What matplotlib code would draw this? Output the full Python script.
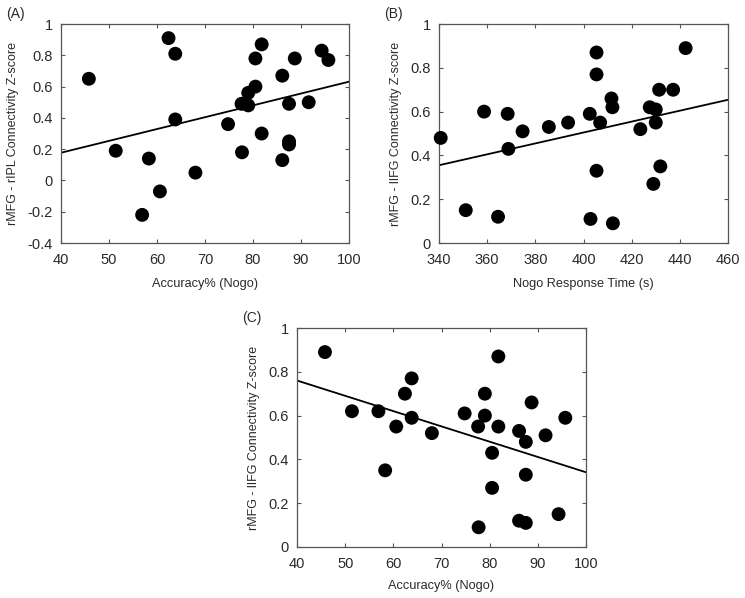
import numpy as np
import matplotlib
matplotlib.use("Agg")
import matplotlib.pyplot as plt

plt.rcParams['font.family'] = ['Liberation Sans', 'DejaVu Sans']

# Accuracy % (Nogo) - shared by panels A and C
accuracy = [45.8, 51.4, 56.9, 58.3, 60.6, 62.4, 63.8, 63.8, 68.0, 74.8, 77.6, 77.7,
            79.0, 79.0, 80.5, 80.5, 81.8, 81.8, 86.1, 86.1, 87.5, 87.5, 87.5, 88.7,
            91.6, 94.3, 95.7]
# Panel A: rMFG - rIPL connectivity
rmfg_ripl = [0.65, 0.19, -0.22, 0.14, -0.07, 0.91, 0.81, 0.39, 0.05, 0.36, 0.49, 0.18,
             0.56, 0.48, 0.78, 0.60, 0.87, 0.30, 0.67, 0.13, 0.49, 0.25, 0.23, 0.78,
             0.50, 0.83, 0.77]
# Panel C: rMFG - lIFG connectivity vs accuracy
rmfg_lifg_acc = [0.89, 0.62, 0.62, 0.35, 0.55, 0.70, 0.77, 0.59, 0.52, 0.61, 0.55, 0.09,
                 0.70, 0.60, 0.43, 0.27, 0.87, 0.55, 0.53, 0.12, 0.48, 0.33, 0.11, 0.66,
                 0.51, 0.15, 0.59]
# Panel B: Nogo response time vs rMFG - lIFG connectivity
nogo_rt = [340.7, 351.1, 358.7, 364.5, 368.5, 368.8, 374.7, 385.6, 393.6, 402.6, 402.9,
           405.4, 405.4, 405.4, 406.9, 411.6, 412.0, 412.2, 423.6, 427.5, 429.0, 430.0,
           430.0, 431.4, 431.9, 437.2, 442.4]
rmfg_lifg_rt = [0.48, 0.15, 0.60, 0.12, 0.59, 0.43, 0.51, 0.53, 0.55, 0.59, 0.11,
                0.87, 0.77, 0.33, 0.55, 0.66, 0.62, 0.09, 0.52, 0.62, 0.27, 0.61,
                0.55, 0.70, 0.35, 0.70, 0.89]

fig = plt.figure(figsize=(7.45, 5.98), dpi=100)

spine_col = '#555555'
text_col = '#2a2a2a'


def panel(rect, x, y, xlim, ylim, xticks, yticks, xlabel, ylabel, tag, ytick_fmt, xlpad):
    ax = fig.add_axes(rect)
    ax.scatter(x, y, s=100, color='black', edgecolors='none', zorder=3, clip_on=False)
    slope, intercept = np.polyfit(x, y, 1)
    xs = np.array(xlim)
    ax.plot(xs, slope * xs + intercept, color='black', lw=1.3, zorder=2)
    ax.set_xlim(xlim)
    ax.set_ylim(ylim)
    ax.set_xticks(xticks)
    ax.set_yticks(yticks)
    ax.set_yticklabels([ytick_fmt(v) for v in yticks])
    ax.tick_params(direction='in', top=True, right=True, length=3, width=0.8,
                   color=spine_col, labelcolor=text_col, labelsize=10.5, pad=6)
    ax.tick_params(axis='x', pad=7)
    for s in ax.spines.values():
        s.set_color(spine_col)
        s.set_linewidth(0.9)
    ax.set_xlabel(xlabel, fontsize=9.2, color=text_col, labelpad=xlpad)
    ax.set_ylabel(ylabel, fontsize=9.0, color=text_col, labelpad=6)
    ax.text(-0.19, 1.045, tag, transform=ax.transAxes, fontsize=10, color=text_col,
            ha='left', va='center')
    return ax


def fmt(v):
    v = round(v, 1)
    if v == int(v):
        return str(int(v))
    return ('%.1f' % v)


panel([0.0819, 0.5936, 0.3866, 0.3662], accuracy, rmfg_ripl, (40, 100), (-0.4, 1),
      [40, 50, 60, 70, 80, 90, 100], [-0.4, -0.2, 0, 0.2, 0.4, 0.6, 0.8, 1],
      'Accuracy% (Nogo)', 'rMFG - rIPL Connectivity Z-score', '(A)', fmt, 8)
panel([0.5893, 0.5936, 0.3879, 0.3662], nogo_rt, rmfg_lifg_rt, (340, 460), (0, 1),
      [340, 360, 380, 400, 420, 440, 460], [0, 0.2, 0.4, 0.6, 0.8, 1],
      'Nogo Response Time (s)', 'rMFG - lIFG Connectivity Z-score', '(B)', fmt, 8)
panel([0.3987, 0.0853, 0.3879, 0.3662], accuracy, rmfg_lifg_acc, (40, 100), (0, 1),
      [40, 50, 60, 70, 80, 90, 100], [0, 0.2, 0.4, 0.6, 0.8, 1],
      'Accuracy% (Nogo)', 'rMFG - lIFG Connectivity Z-score', '(C)', fmt, 6.5)

fig.savefig('out.png', dpi=100)
